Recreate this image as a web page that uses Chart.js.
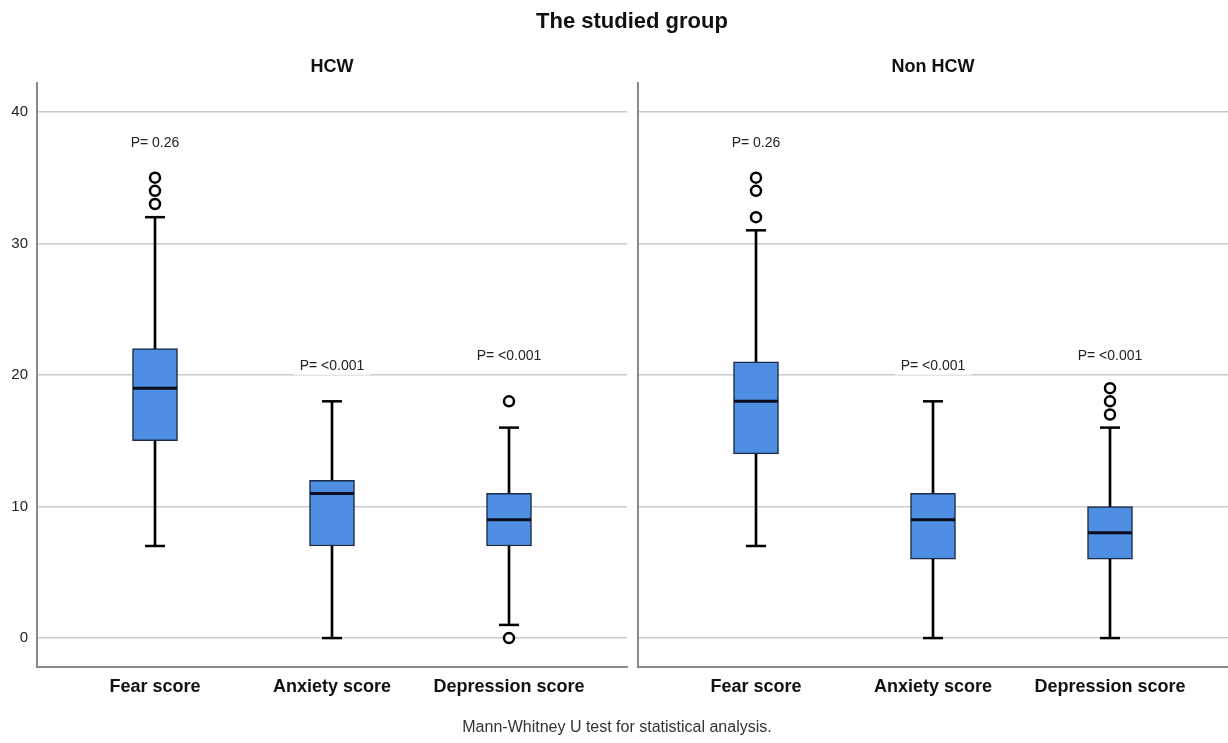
<!DOCTYPE html>
<html>
<head>
<meta charset="utf-8">
<script src="https://cdn.jsdelivr.net/npm/chart.js@4.4.1/dist/chart.umd.min.js"></script>
<style>
  body { margin: 0; background: #fff; font-family: Arial, "Liberation Sans", sans-serif; }
  #wrap { position: relative; width: 1228px; height: 743px; overflow: hidden; }
  canvas { position: absolute; top: 0; }
  .txt { position: absolute; white-space: nowrap; transform: translate(-50%, -50%); color: #111; }
</style>
</head>
<body>
<div id="wrap">
  <canvas id="hcwChart" width="632" height="743" style="left:0"></canvas>
  <canvas id="nonChart" width="596" height="743" style="left:632px"></canvas>
  <div class="txt" style="left:632px; top:21px; font-size:22px; font-weight:bold;">The studied group</div>
  <div class="txt" style="left:332px; top:66px; font-size:18px; font-weight:bold;">HCW</div>
  <div class="txt" style="left:933px; top:66px; font-size:18px; font-weight:bold;">Non HCW</div>
  <div class="txt" style="left:617px; top:727px; font-size:16px; color:#333;">Mann-Whitney U test for statistical analysis.</div>
</div>
<script>
// Boxplot summaries
const categories = ['Fear score', 'Anxiety score', 'Depression score'];
const yTicks = [0, 10, 20, 30, 40];
const pLabels = ['P= 0.26', 'P= <0.001', 'P= <0.001'];

const hcwMin = [7, 0, 1];
const hcwQ1 = [15, 7, 7];
const hcwMedian = [19, 11, 9];
const hcwQ3 = [22, 12, 11];
const hcwMax = [32, 18, 16];
const hcwOutliers = [[33, 34, 35], [], [0, 18]];
const hcwLabelY = [37.6, 20.7, 21.4];

const nonMin = [7, 0, 0];
const nonQ1 = [14, 6, 6];
const nonMedian = [18, 9, 8];
const nonQ3 = [21, 11, 10];
const nonMax = [31, 18, 16];
const nonOutliers = [[32, 34, 35], [], [17, 18, 19]];
const nonLabelY = [37.6, 20.7, 21.4];

Chart.defaults.font.family = 'Arial, "Liberation Sans", sans-serif';
Chart.defaults.color = '#222';

const pLabelPlugin = {
  id: 'pLabels',
  afterDatasetsDraw(chart, args, opts) {
    const { ctx, scales: { x, y } } = chart;
    ctx.save();
    ctx.font = '14px Arial, "Liberation Sans", sans-serif';
    ctx.textAlign = 'center';
    ctx.textBaseline = 'middle';
    opts.labels.forEach((t, i) => {
      const px = x.getPixelForValue(i);
      const py = y.getPixelForValue(opts.values[i]);
      const w = ctx.measureText(t).width;
      ctx.fillStyle = '#fff';
      ctx.fillRect(px - w / 2 - 6, py - 9, w + 12, 18);
      ctx.fillStyle = '#222';
      ctx.fillText(t, px, py);
    });
    ctx.restore();
  }
};

function makeBoxChart(id, s, showY) {
  const ctx = document.getElementById(id);
  const idx = categories.map((c, i) => i);
  const caps = [];
  idx.forEach(i => { caps.push({ x: i, y: s.min[i] }); caps.push({ x: i, y: s.max[i] }); });
  const outs = [];
  s.outliers.forEach((arr, i) => arr.forEach(v => outs.push({ x: i, y: v })));

  return new Chart(ctx, {
    type: 'bar',
    data: {
      datasets: [{
        label: 'whisker',
        data: idx.map(i => ({ x: i, y: [s.min[i], s.max[i]] })),
        backgroundColor: '#000',
        barThickness: 2,
        grouped: false,
        order: 5
      }, {
        label: 'box',
        data: idx.map(i => ({ x: i, y: [s.q1[i], s.q3[i]] })),
        backgroundColor: '#4f8fe3',
        borderColor: '#1d2a45',
        borderWidth: 1.5,
        borderSkipped: false,
        barThickness: 45,
        grouped: false,
        order: 4
      }, {
        type: 'scatter',
        label: 'median',
        data: idx.map(i => ({ x: i, y: s.median[i] })),
        pointStyle: 'line',
        radius: 22,
        borderWidth: 3,
        borderColor: '#0b0d1c',
        order: 3
      }, {
        type: 'scatter',
        label: 'caps',
        data: caps,
        pointStyle: 'line',
        radius: 10,
        borderWidth: 2.5,
        borderColor: '#000',
        order: 2
      }, {
        type: 'scatter',
        label: 'outliers',
        data: outs,
        pointStyle: 'circle',
        radius: 5,
        borderWidth: 2.5,
        borderColor: '#000',
        backgroundColor: '#fff',
        order: 1
      }]
    },
    options: {
      responsive: false,
      animation: false,
      devicePixelRatio: 1,
      layout: {
        autoPadding: false,
        padding: { left: showY ? 0 : 6, right: showY ? 5 : 0, top: 83, bottom: 31 }
      },
      plugins: {
        legend: { display: false },
        tooltip: { enabled: false },
        pLabels: { labels: pLabels, values: s.labelY }
      },
      scales: {
        x: {
          type: 'linear',
          offset: false,
          min: -2 / 3,
          max: 8 / 3,
          afterBuildTicks: scale => { scale.ticks = idx.map(v => ({ value: v })); },
          afterFit: scale => { scale.height = 45; scale.paddingLeft = 0; scale.paddingRight = 0; },
          ticks: {
            padding: 9,
            autoSkip: false,
            maxRotation: 0,
            color: '#111',
            font: { size: 18, weight: 'bold' },
            callback: v => categories[v]
          },
          grid: { offset: false, drawOnChartArea: false, drawTicks: false },
          border: { display: true, color: '#8a8a8a', width: 2 }
        },
        y: {
          min: -2.2,
          max: 42.2,
          afterBuildTicks: scale => { scale.ticks = yTicks.map(v => ({ value: v })); },
          afterFit: scale => { scale.width = showY ? 37 : 0; },
          ticks: { display: showY, padding: 9, color: '#222', font: { size: 15 } },
          grid: { color: '#c9c9c9', lineWidth: 1.5, drawTicks: false },
          border: { display: true, color: '#8a8a8a', width: 2 }
        }
      }
    },
    plugins: [pLabelPlugin]
  });
}

makeBoxChart('hcwChart', {
  min: hcwMin, q1: hcwQ1, median: hcwMedian, q3: hcwQ3, max: hcwMax,
  outliers: hcwOutliers, labelY: hcwLabelY
}, true);

makeBoxChart('nonChart', {
  min: nonMin, q1: nonQ1, median: nonMedian, q3: nonQ3, max: nonMax,
  outliers: nonOutliers, labelY: nonLabelY
}, false);
</script>
</body>
</html>
